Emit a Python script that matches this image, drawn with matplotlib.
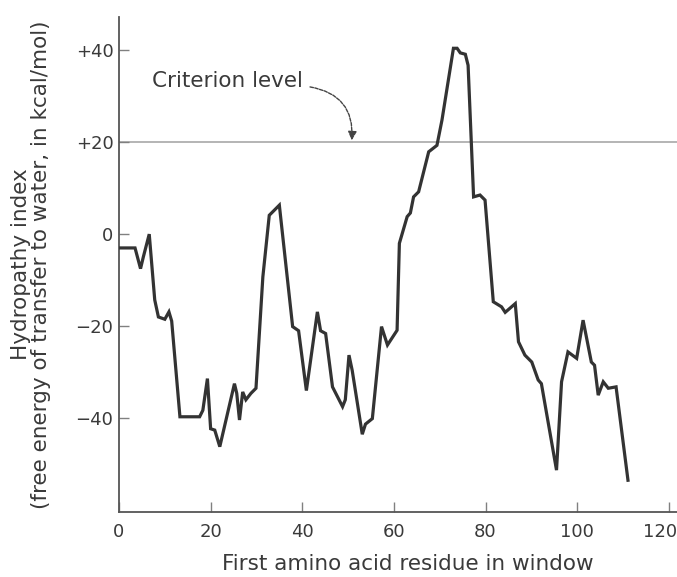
import matplotlib
matplotlib.use("Agg")
import matplotlib.pyplot as plt
from matplotlib.patches import FancyArrowPatch
from matplotlib.transforms import ScaledTranslation

plt.rcParams['font.family'] = ['DejaVu Sans']

residue = [0, 3.5, 4.7, 5.3, 6.6, 7.8, 8.6, 10, 10.9, 11.5, 13.3, 17.6, 18.3, 19.3, 20, 20.9,
           22, 25.2, 25.7, 26.3, 27, 27.7, 28.8, 29.9, 31.4, 32.8, 35, 37.9, 39.2, 40.9, 43.3,
           44, 45.1, 46.6, 48.8, 49.4, 50.2, 50.9, 53.1, 53.8, 55.3, 57.3, 58.6, 60.7, 61.2,
           62.9, 63.6, 64.3, 65.4, 67.6, 69.4, 70.5, 73, 73.8, 74.5, 75.6, 76.2, 77.4, 78.8,
           79.9, 81.7, 83.5, 84.3, 86.5, 87.2, 88.6, 90.1, 91.5, 92.2, 95.5, 96.6, 98, 99.9,
           101.3, 103.1, 103.8, 104.6, 105.7, 106.8, 108.5, 111.1]
hydropathy = [-3, -3, -7.5, -5, 0, -14.3, -18, -18.5, -16.9, -18.9, -39.7, -39.7, -38.3, -31.4,
              -42.3, -42.6, -46.2, -32.5, -34.6, -40.4, -34.3, -36, -34.6, -33.5, -9.3, 4.1, 6.3,
              -20.1, -21, -34, -16.9, -21, -21.6, -33.2, -37.5, -36, -26.3, -29.6, -43.5, -41.3,
              -40.1, -20.1, -24.1, -20.9, -2, 3.8, 4.6, 8.1, 9.2, 17.9, 19.3, 24.8, 40.4, 40.4,
              39.4, 39.1, 36.7, 8.1, 8.5, 7.4, -14.7, -15.8, -17, -15.1, -23.4, -26.3, -27.8,
              -31.7, -32.5, -51.3, -32.1, -25.6, -27, -18.7, -27.8, -28.5, -35, -32.1, -33.5,
              -33.2, -53.5]

criterion = 20
xticks = [0, 20, 40, 60, 80, 100, 120]
yticks = [-40, -20, 0, 20, 40]
ytick_labels = ['\u221240', '\u221220', '0', '+20', '+40']

W, H = 677, 577
fig = plt.figure(figsize=(W / 100, H / 100), dpi=100)
ax = fig.add_axes([119 / W, (H - 512) / H, (W - 119) / W, (512 - 17) / H])

ax.axhline(criterion, color='#a0a0a0', lw=1.1, zorder=1)
ax.plot(residue, hydropathy, color='#333333', lw=2.3, solid_joinstyle='miter', zorder=3)

ax.set_xlim(0, 121.8)
ax.set_ylim(-60.4, 47.2)

for s in ['top', 'right']:
    ax.spines[s].set_visible(False)
for s in ['left', 'bottom']:
    ax.spines[s].set_color('#555555')
    ax.spines[s].set_linewidth(1.3)

ax.set_xticks(xticks)
ax.set_yticks(yticks)
ax.set_yticklabels(ytick_labels)
ax.tick_params(axis='both', direction='in', length=7, width=1.0, color='#808080',
               labelsize=13, labelcolor='#3a3a3a')
ax.tick_params(axis='x', pad=8)
ax.tick_params(axis='y', pad=4)

# the last x tick label sits slightly inward in the original
lbl = ax.get_xticklabels()[-1]
lbl.set_transform(lbl.get_transform() + ScaledTranslation(-9 / 100, 0, fig.dpi_scale_trans))

ax.set_xlabel('First amino acid residue in window', fontsize=15.5, color='#3a3a3a')
ax.xaxis.set_label_coords(0.518, -0.085)
ax.set_ylabel('Hydropathy index\n(free energy of transfer to water, in kcal/mol)',
              fontsize=15.5, color='#3a3a3a', linespacing=1.0)
ax.yaxis.set_label_coords(-0.122, 0.5)

ax.text(7.2, 31.9, 'Criterion level', fontsize=15.5, color='#3a3a3a', va='baseline', ha='left')
arrow = FancyArrowPatch((41.7, 32.0), (50.8, 20.4), connectionstyle='arc3,rad=-0.45',
                        arrowstyle='-|>', mutation_scale=13, color='#444444', lw=1.0,
                        linestyle=(0, (2.5, 1)), shrinkA=0, shrinkB=0)
ax.add_patch(arrow)

fig.savefig('out.png', dpi=100)
